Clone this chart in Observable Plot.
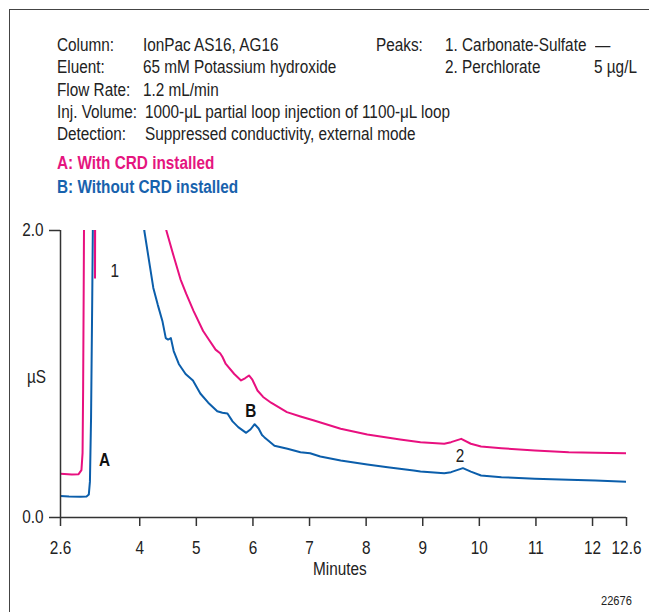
<!DOCTYPE html>
<html>
<head>
<meta charset="utf-8">
<script src="https://cdn.jsdelivr.net/npm/d3@7"></script>
<script src="https://cdn.jsdelivr.net/npm/@observablehq/plot@0.6"></script>
<style>
  html, body { margin: 0; padding: 0; background: #fff; }
  body { width: 649px; height: 612px; overflow: hidden; position: relative;
         font-family: 'Liberation Sans', Arial, sans-serif; color: #222; }
  #chart { position: absolute; left: 0; top: 0; }
  .frame { position: absolute; left: 9px; top: 9px; width: 650px; height: 610px;
           border-left: 1.5px solid #444; border-top: 1.5px solid #444; }
  .t { position: absolute; font-size: 18.7px; line-height: 22px; white-space: nowrap;
       transform: scaleX(0.82); transform-origin: 0 0; }
  .b { font-weight: bold; }
</style>
</head>
<body>
<div id="chart"></div>
<div class="frame"></div>

<div class="t" style="left:57px;top:34px">Column:</div>
<div class="t" style="left:143px;top:34px">IonPac AS16, AG16</div>
<div class="t" style="left:376px;top:34px">Peaks:</div>
<div class="t" style="left:445px;top:34px">1. Carbonate-Sulfate</div>
<div class="t" style="left:595px;top:34px">—</div>

<div class="t" style="left:57px;top:56px">Eluent:</div>
<div class="t" style="left:143px;top:56px">65 mM Potassium hydroxide</div>
<div class="t" style="left:445px;top:56px">2. Perchlorate</div>
<div class="t" style="left:594px;top:56px">5 µg/L</div>

<div class="t" style="left:57px;top:78.5px">Flow Rate:</div>
<div class="t" style="left:143px;top:78.5px">1.2 mL/min</div>

<div class="t" style="left:57px;top:101px">Inj. Volume:</div>
<div class="t" style="left:145px;top:101px">1000-μL partial loop injection of 1100-μL loop</div>

<div class="t" style="left:57px;top:123px">Detection:</div>
<div class="t" style="left:145px;top:123px">Suppressed conductivity, external mode</div>

<div class="t b" style="left:57px;top:152px;color:#e5157f">A: With CRD installed</div>
<div class="t b" style="left:57px;top:175.5px;color:#1862ad">B: Without CRD installed</div>

<div class="t" style="left:27px;top:366px">µS</div>
<div class="t" style="left:313px;top:558px">Minutes</div>
<div class="t" style="left:601px;top:593px;font-size:13.5px;line-height:16px">22676</div>

<script>
// ---- data ----
const timeA = [2.60,2.80,2.92,2.97,2.99,3.00,3.01,3.02,3.10,3.20,3.21,3.22,4.40,4.47,4.60,4.72,4.82,4.95,5.12,5.22,5.34,5.42,5.46,5.52,5.67,5.79,5.86,5.93,5.99,6.08,6.18,6.32,6.60,6.84,7.08,7.55,8.02,8.60,8.96,9.38,9.50,9.68,9.85,10.03,10.39,10.98,11.58,12.05,12.60];
const valueA = [0.305,0.300,0.302,0.33,0.45,0.9,1.6,2.4,3.5,3.5,1.67,3.5,2.6,2.0,1.82,1.66,1.56,1.44,1.30,1.24,1.17,1.145,1.12,1.07,1.00,0.955,0.97,0.99,0.96,0.885,0.84,0.80,0.734,0.704,0.676,0.618,0.578,0.544,0.525,0.514,0.525,0.548,0.514,0.495,0.483,0.467,0.455,0.451,0.448];

const timeB = [2.60,2.75,2.95,3.06,3.10,3.12,3.14,3.16,3.18,3.50,4.00,4.08,4.18,4.24,4.32,4.40,4.46,4.50,4.55,4.60,4.69,4.81,4.94,5.07,5.21,5.37,5.46,5.55,5.64,5.74,5.88,5.96,6.03,6.10,6.16,6.20,6.38,6.61,6.84,7.01,7.19,7.55,8.02,8.38,8.84,8.96,9.38,9.50,9.71,9.85,10.03,10.39,10.98,11.58,12.05,12.60];
const valueB = [0.150,0.146,0.145,0.147,0.16,0.25,0.7,1.5,2.4,4.0,2.5,2.0,1.75,1.60,1.48,1.37,1.25,1.24,1.25,1.16,1.07,1.00,0.955,0.864,0.80,0.74,0.73,0.725,0.67,0.63,0.59,0.615,0.65,0.62,0.575,0.56,0.50,0.479,0.455,0.448,0.425,0.397,0.369,0.35,0.328,0.32,0.309,0.316,0.344,0.32,0.293,0.281,0.27,0.263,0.258,0.249];

const xTicks = [2.6,4,5,6,7,8,9,10,11,12,12.6];
const xTickLabels = ["2.6","4","5","6","7","8","9","10","11","12","12.6"];
const yTicks = [0,2];
const yTickLabels = ["0.0","2.0"];

const peakLabels = ["1","2"];
const peakTime = [3.56,9.66];
const peakValue = [1.72,0.43];
const traceLabels = ["A","B"];
const traceTime = [3.38,5.96];
const traceValue = [0.40,0.745];

// ---- build ----
const pink = "#e8107f", blue = "#0b5eab";
const A = timeA.map((t,i)=>({t, v: valueA[i]}));
const B = timeB.map((t,i)=>({t, v: valueB[i]}));
const peaks = peakLabels.map((l,i)=>({l, t: peakTime[i], v: peakValue[i]}));
const traces = traceLabels.map((l,i)=>({l, t: traceTime[i], v: traceValue[i]}));

const chart = Plot.plot({
  width: 649, height: 612,
  marginTop: 230, marginBottom: 95, marginLeft: 60, marginRight: 23,
  x: {domain: [2.6, 12.6]},
  y: {domain: [0, 2]},
  style: {background: "transparent", fontFamily: "'Liberation Sans', Arial, sans-serif", fontSize: "18.7px", color: "#222", overflow: "visible"},
  marks: [
    Plot.line(B, {x: "t", y: "v", stroke: blue, strokeWidth: 2, clip: true}),
    Plot.line(A, {x: "t", y: "v", stroke: pink, strokeWidth: 2, clip: true}),
    Plot.ruleY([0], {stroke: "#333", strokeWidth: 1.5}),
    Plot.ruleX([2.6], {stroke: "#333", strokeWidth: 1.5}),
    Plot.axisX({ticks: xTicks, tickFormat: d => xTickLabels[xTicks.indexOf(d)], tickSize: 9, tickPadding: 14, label: null, stroke: "#333", strokeWidth: 1.5}),
    Plot.axisY({ticks: yTicks, tickFormat: d => yTickLabels[yTicks.indexOf(d)], tickSize: 11, tickPadding: 6, label: null, stroke: "#333", strokeWidth: 1.5}),
    Plot.text(peaks, {x: "t", y: "v", text: "l", fill: "#222", fontSize: 18.7}),
    Plot.text(traces, {x: "t", y: "v", text: "l", fill: "#111", fontSize: 18.7, fontWeight: "bold"})
  ]
});
// condensed look: narrow every positioned text horizontally around its anchor
d3.select(chart).selectAll("text").each(function() {
  const el = d3.select(this);
  const tr = el.attr("transform") || "";
  if (tr.includes("translate")) el.attr("transform", tr + " scale(0.82,1)");
});
document.getElementById("chart").appendChild(chart);
</script>
</body>
</html>
